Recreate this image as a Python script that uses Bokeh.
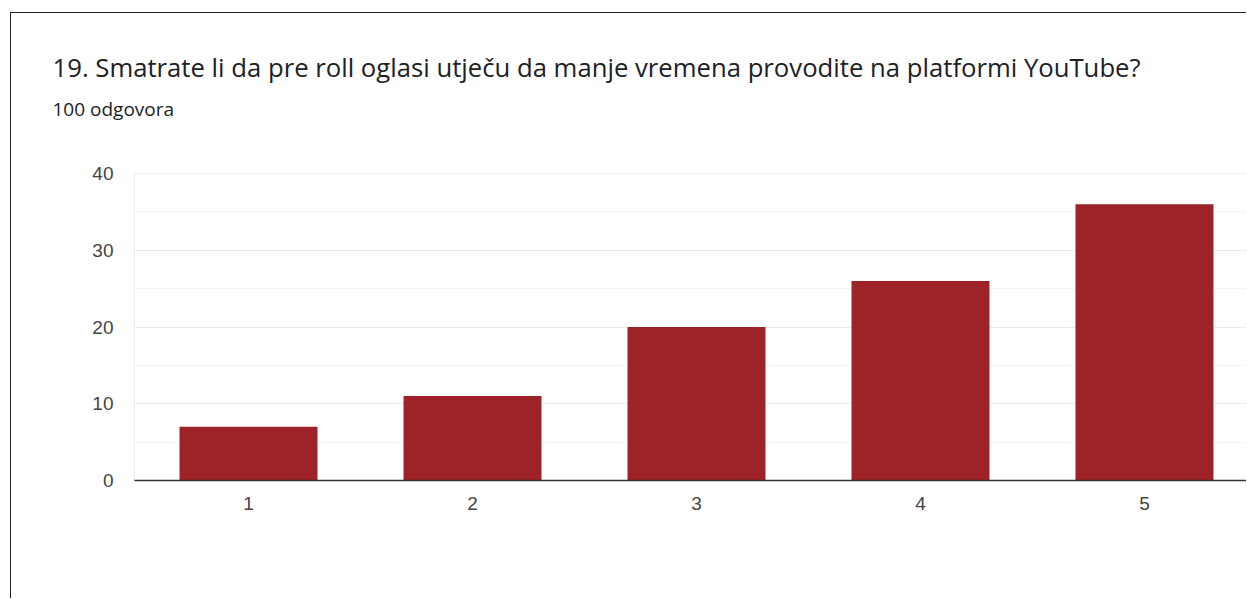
from bokeh.plotting import figure
from bokeh.models import Range1d, FixedTicker, SingleIntervalTicker, Title
from bokeh.embed import file_html
from bokeh.resources import INLINE

# ---- data ----
categories = ["1", "2", "3", "4", "5"]
counts = [7, 11, 20, 26, 36]
title_text = "19. Smatrate li da pre roll oglasi utječu da manje vremena provodite na platformi YouTube?"
subtitle_text = "100 odgovora"

xs = list(range(1, len(categories) + 1))

W, H = 1236, 586
p = figure(width=W, height=H, output_backend="svg", toolbar_location=None, title=None,
           x_range=Range1d(0.491, 5.460), y_range=Range1d(0, 40),
           min_border_left=123, min_border_right=0, min_border_top=160,
           min_border_bottom=119)
p.background_fill_color = "white"
p.border_fill_color = "white"
p.outline_line_color = "#EEEEEE"
p.outline_line_width = 1

p.vbar(x=xs, top=counts, width=0.616, fill_color="#9E2328", line_color=None)

# axes
p.yaxis.ticker = SingleIntervalTicker(interval=10, num_minor_ticks=2)
p.yaxis.axis_line_color = None
p.yaxis.major_tick_line_color = None
p.yaxis.minor_tick_line_color = None
p.yaxis.major_label_standoff = 15
p.yaxis.major_label_text_font = "Liberation Sans"
p.yaxis.major_label_text_font_size = "19px"
p.yaxis.major_label_text_color = "#444444"

p.xaxis.ticker = FixedTicker(ticks=xs)
p.xaxis.major_label_overrides = {x: c for x, c in zip(xs, categories)}
p.xaxis.axis_line_color = "#333333"
p.xaxis.axis_line_width = 1.5
p.xaxis.major_tick_line_color = None
p.xaxis.minor_tick_line_color = None
p.xaxis.major_label_standoff = 10
p.xaxis.major_label_text_font = "Liberation Sans"
p.xaxis.major_label_text_font_size = "19px"
p.xaxis.major_label_text_color = "#444444"

p.xgrid.grid_line_color = None
p.ygrid.grid_line_color = "#EBEBEB"
p.ygrid.minor_grid_line_color = "#F4F4F4"

# spacer between subtitle and plot area
p.add_layout(Title(text=" ", text_font="Open Sans", text_font_size="10px", standoff=36), "above")
p.add_layout(Title(text=subtitle_text, align="left", offset=-82, text_font="Open Sans",
                   text_font_size="19px", text_font_style="normal", text_color="#202124",
                   standoff=0), "above")
p.add_layout(Title(text=title_text, align="left", offset=-82, text_font="Open Sans",
                   text_font_size="25.7px", text_font_style="normal", text_color="#202124",
                   standoff=17), "above")

p.styles = {"border-top": "1px solid #222222", "border-left": "1px solid #222222",
            "margin-left": "10px", "margin-top": "12px"}

open("out.html", "w").write(file_html(p, INLINE))
